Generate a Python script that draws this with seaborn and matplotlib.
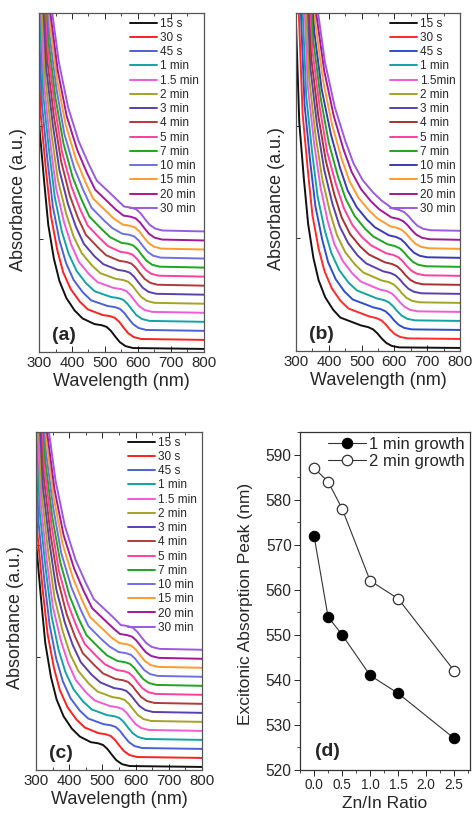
import matplotlib
matplotlib.use("Agg")
import pandas as pd
import matplotlib.pyplot as plt
from matplotlib.lines import Line2D
from matplotlib.ticker import MultipleLocator
import seaborn as sns

# growth times (legend order)
TIMES_A = ["15 s", "30 s", "45 s", "1 min", "1.5 min", "2 min", "3 min", "4 min",
           "5 min", "7 min", "10 min", "15 min", "20 min", "30 min"]
TIMES_B = ["15 s", "30 s", "45 s", "1 min", "1.5min", "2 min", "3 min", "4 min",
           "5 min", "7 min", "10 min", "15 min", "20 min", "30 min"]
COLORS = ["#111111", "#ff2020", "#4a62d8", "#13a3a3", "#f25ad8", "#a3a324", "#5a3fae",
          "#b03a3a", "#ff3f9c", "#1fa51f", "#6f6fe6", "#ff9a2e", "#a3169e", "#9a5ae0"]
COLORS_B = ["#111111", "#ff2a2a", "#2d4fcf", "#13a3a3", "#f25ad8", "#a3a324", "#5a3fae",
            "#a83030", "#ff3f9c", "#1fa51f", "#3a3ab8", "#ff9a2e", "#a3169e", "#9a5ae0"]

# absorbance levels (a.u., before stacking) and the wavelengths where each spectrum hits them
UV_LEVELS = [3.4, 2.0, 1.5, 1.1, 0.8, 0.6, 0.45, 0.34, 0.27]
SHOULDER_AC = [0.22, 0.21, 0.195, 0.16, 0.11, 0.06, 0.025, 0.008, 0.0]
SHOULDER_B = [0.2, 0.185, 0.165, 0.13, 0.085, 0.045, 0.018, 0.005, 0.0]

WL_A = [
    [283, 300, 315, 328, 345, 362, 383, 408, 432, 468, 490, 505, 518, 531, 545, 562, 585, 800],
    [287, 305, 321, 336, 355, 373, 396, 423, 448, 493, 515, 530, 543, 556, 570, 587, 610, 800],
    [290, 309, 326, 342, 362, 382, 405, 433, 458, 508, 530, 545, 558, 571, 585, 602, 625, 800],
    [293, 313, 331, 348, 369, 390, 414, 443, 469, 518, 540, 555, 568, 581, 595, 612, 635, 800],
    [295, 316, 334, 352, 376, 398, 421, 452, 478, 526, 548, 563, 576, 589, 603, 620, 643, 800],
    [298, 319, 338, 357, 382, 404, 429, 460, 486, 533, 555, 570, 583, 596, 610, 627, 650, 800],
    [300, 322, 342, 362, 388, 412, 436, 468, 495, 538, 560, 575, 588, 601, 615, 632, 655, 800],
    [302, 325, 345, 367, 393, 418, 442, 478, 503, 543, 565, 580, 593, 606, 620, 637, 660, 800],
    [304, 327, 348, 370, 398, 424, 448, 484, 509, 546, 568, 583, 596, 609, 623, 640, 663, 800],
    [305, 329, 350, 374, 402, 429, 453, 490, 515, 549, 571, 586, 599, 612, 626, 643, 666, 800],
    [307, 331, 353, 377, 407, 435, 459, 496, 522, 552, 574, 589, 602, 615, 629, 646, 669, 800],
    [308, 333, 355, 381, 412, 440, 464, 503, 528, 554, 576, 591, 604, 617, 631, 648, 671, 800],
    [310, 335, 357, 384, 416, 445, 470, 509, 534, 556, 578, 593, 606, 619, 633, 650, 673, 800],
    [311, 337, 360, 388, 420, 450, 475, 515, 540, 558, 580, 595, 608, 621, 635, 652, 675, 800],
]
WL_B = [
    [294, 310, 324, 337, 353, 369, 389, 413, 435, 498, 520, 535, 548, 561, 575, 592, 615, 800],
    [302, 320, 336, 350, 369, 387, 409, 435, 460, 523, 545, 560, 573, 586, 600, 617, 640, 800],
    [307, 326, 343, 359, 380, 398, 421, 448, 473, 536, 558, 573, 586, 599, 613, 630, 653, 800],
    [311, 331, 349, 366, 388, 408, 432, 460, 486, 546, 568, 583, 596, 609, 623, 640, 663, 800],
    [316, 336, 355, 375, 397, 417, 443, 472, 497, 554, 576, 591, 604, 617, 631, 648, 671, 800],
    [319, 340, 359, 380, 404, 425, 450, 480, 505, 560, 582, 597, 610, 623, 637, 654, 677, 800],
    [323, 344, 364, 386, 411, 433, 459, 488, 514, 566, 588, 603, 616, 629, 643, 660, 683, 800],
    [325, 347, 368, 391, 417, 439, 465, 496, 522, 571, 593, 608, 621, 634, 648, 665, 688, 800],
    [328, 350, 372, 395, 423, 446, 472, 502, 529, 575, 597, 612, 625, 638, 652, 669, 692, 800],
    [331, 353, 375, 400, 428, 452, 479, 510, 535, 579, 601, 616, 629, 642, 656, 673, 696, 800],
    [333, 356, 378, 406, 434, 457, 485, 516, 541, 583, 605, 620, 633, 646, 660, 677, 700, 800],
    [336, 359, 382, 410, 439, 463, 491, 523, 548, 587, 609, 624, 637, 650, 664, 681, 704, 800],
    [339, 362, 386, 415, 445, 470, 498, 529, 554, 590, 612, 627, 640, 653, 667, 684, 707, 800],
    [340, 364, 388, 418, 450, 475, 503, 535, 560, 593, 615, 630, 643, 656, 670, 687, 710, 800],
]
WL_C = [
    [283, 300, 315, 328, 345, 362, 383, 408, 432, 465, 487, 502, 515, 528, 542, 559, 582, 800],
    [286, 304, 320, 335, 354, 372, 395, 422, 447, 488, 510, 525, 538, 551, 565, 582, 605, 800],
    [289, 308, 325, 341, 361, 381, 404, 432, 457, 503, 525, 540, 553, 566, 580, 597, 620, 800],
    [292, 312, 330, 347, 368, 389, 413, 442, 468, 514, 536, 551, 564, 577, 591, 608, 631, 800],
    [294, 315, 333, 351, 375, 397, 420, 451, 477, 523, 545, 560, 573, 586, 600, 617, 640, 800],
    [297, 318, 337, 356, 381, 403, 428, 459, 485, 530, 552, 567, 580, 593, 607, 624, 647, 800],
    [299, 321, 341, 361, 387, 411, 435, 467, 494, 535, 557, 572, 585, 598, 612, 629, 652, 800],
    [301, 324, 344, 366, 392, 417, 441, 477, 502, 540, 562, 577, 590, 603, 617, 634, 657, 800],
    [303, 326, 347, 369, 397, 423, 447, 483, 508, 543, 565, 580, 593, 606, 620, 637, 660, 800],
    [304, 328, 349, 373, 401, 428, 452, 489, 514, 546, 568, 583, 596, 609, 623, 640, 663, 800],
    [306, 330, 352, 376, 406, 434, 458, 495, 521, 549, 571, 586, 599, 612, 626, 643, 666, 800],
    [307, 332, 354, 380, 411, 439, 463, 502, 527, 551, 573, 588, 601, 614, 628, 645, 668, 800],
    [309, 334, 356, 383, 415, 444, 469, 508, 533, 553, 575, 590, 603, 616, 630, 647, 670, 800],
    [310, 336, 359, 387, 419, 449, 474, 514, 539, 555, 577, 592, 605, 618, 632, 649, 672, 800],
]

# panel (d)
ZN_IN = [0.0, 0.25, 0.5, 1.0, 1.5, 2.5]
PEAK_1MIN = [572, 554, 550, 541, 537, 527]
PEAK_2MIN = [587, 584, 578, 562, 558, 542]

STEP = 0.08   # vertical offset between spectra
BASE = 0.027


def spectra_frame(wl_rows, levels, times):
    rows = []
    for k, (t, wl) in enumerate(zip(times, wl_rows)):
        for x, y in zip(wl, levels):
            rows.append({"time": t, "wavelength": x, "absorbance": y + BASE + k * STEP})
    return pd.DataFrame(rows)


def draw_spectra(ax, df, times, colors, tag):
    pal = dict(zip(times, colors))
    sns.lineplot(data=df, x="wavelength", y="absorbance", hue="time", hue_order=times,
                 palette=pal, estimator=None, sort=False, lw=1.4, legend=False, ax=ax)
    for ln in ax.lines:
        ln.set_solid_joinstyle("round")
    ax.set_xlim(300, 800)
    ax.set_ylim(0, 3.0)
    ax.xaxis.set_major_locator(MultipleLocator(100))
    ax.xaxis.set_minor_locator(MultipleLocator(50))
    ax.set_yticks([1, 2])
    ax.set_yticklabels([])
    ax.tick_params(axis="x", which="both", direction="in", top=True, labelsize=10.8, pad=3)
    ax.tick_params(axis="x", which="major", length=4, width=0.7)
    ax.tick_params(axis="x", which="minor", length=2.5, width=0.6)
    ax.tick_params(axis="y", direction="in", length=3, width=0.7)
    for s in ax.spines.values():
        s.set_color("#555555")
        s.set_linewidth(0.9)
    ax.set_xlabel("Wavelength (nm)", fontsize=13, labelpad=2)
    ax.set_ylabel("Absorbance (a.u.)", fontsize=13)
    ax.yaxis.set_label_coords(-0.07, 0.45)
    handles = [Line2D([], [], color=c, lw=1.4) for c in colors]
    ax.legend(handles, times, loc="upper right", frameon=False, fontsize=8.5,
              handlelength=2.3, handletextpad=0.25, labelspacing=0.19,
              borderaxespad=0.1, borderpad=0.3)
    ax.text(0.08, 0.035, tag, transform=ax.transAxes, fontsize=14, fontweight="bold")


sns.set_theme(style="ticks")
plt.rcParams["font.family"] = ["Liberation Sans", "DejaVu Sans"]

fig = plt.figure(figsize=(4.74, 8.18), dpi=100)
ax_a = fig.add_axes([0.0823, 0.5697, 0.348, 0.4144])
ax_b = fig.add_axes([0.6245, 0.5709, 0.346, 0.4132])
ax_c = fig.add_axes([0.0759, 0.0587, 0.3502, 0.4132])
ax_d = fig.add_axes([0.6329, 0.0587, 0.3586, 0.4132])

draw_spectra(ax_a, spectra_frame(WL_A, UV_LEVELS + SHOULDER_AC, TIMES_A), TIMES_A, COLORS, "(a)")
draw_spectra(ax_b, spectra_frame(WL_B, UV_LEVELS + SHOULDER_B, TIMES_B), TIMES_B, COLORS_B, "(b)")
draw_spectra(ax_c, spectra_frame(WL_C, UV_LEVELS + SHOULDER_AC, TIMES_A), TIMES_A, COLORS, "(c)")

# (d) excitonic peak vs Zn/In ratio
sns.lineplot(x=ZN_IN, y=PEAK_1MIN, marker="o", color="#333333", lw=0.8, ms=7.5,
             markerfacecolor="black", markeredgecolor="black", label="1 min growth", ax=ax_d)
sns.lineplot(x=ZN_IN, y=PEAK_2MIN, marker="o", color="#333333", lw=0.8, ms=7.5,
             markerfacecolor="white", markeredgecolor="#333333", markeredgewidth=0.9,
             label="2 min growth", ax=ax_d)
ax_d.set_xlim(-0.25, 2.78)
ax_d.set_ylim(520, 595)
ax_d.xaxis.set_major_locator(MultipleLocator(0.5))
ax_d.xaxis.set_minor_locator(MultipleLocator(0.25))
ax_d.yaxis.set_major_locator(MultipleLocator(10))
ax_d.yaxis.set_minor_locator(MultipleLocator(5))
ax_d.xaxis.set_major_formatter(plt.FormatStrFormatter("%.1f"))
ax_d.tick_params(axis="x", which="major", labelsize=9.8, length=4, width=0.7, pad=2)
ax_d.tick_params(axis="y", which="major", labelsize=11.2, length=4, width=0.7, pad=2)
ax_d.tick_params(which="minor", length=2.5, width=0.6)
for s in ax_d.spines.values():
    s.set_color("#333333")
    s.set_linewidth(0.9)
ax_d.set_xlabel("Zn/In Ratio", fontsize=12.5, labelpad=3)
ax_d.set_ylabel("Excitonic Absorption Peak (nm)", fontsize=12.5)
ax_d.yaxis.set_label_coords(-0.275, 0.49)
ax_d.legend(loc="upper right", frameon=False, fontsize=12, handlelength=2.3,
            handletextpad=0.2, labelspacing=0.1, borderaxespad=0.1, borderpad=0.2)
ax_d.text(0.09, 0.04, "(d)", transform=ax_d.transAxes, fontsize=14, fontweight="bold")

fig.savefig("out.png", dpi=100)
plt.close(fig)
